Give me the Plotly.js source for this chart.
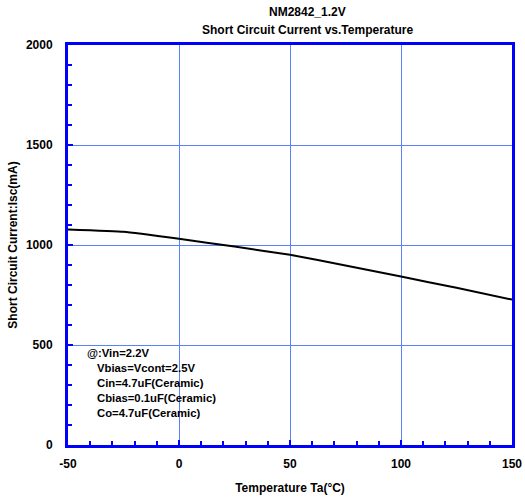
<!DOCTYPE html>
<html>
<head>
<meta charset="utf-8">
<script src="https://cdn.plot.ly/plotly-3.0.1.min.js"></script>
<style>html,body{margin:0;padding:0;background:#fff;}</style>
</head>
<body>
<div id="chart" style="width:525px;height:501px;"></div>
<script>
const temperature = [-50, -25, 0, 25, 50, 75, 100, 125, 150];
const iscCurrent = [1078, 1066, 1031, 992, 951, 898, 842, 786, 727];
const titleLines = ["NM2842_1.2V", "Short Circuit Current vs.Temperature"];
const xTitle = "Temperature Ta(°C)";
const yTitle = "Short Circuit Current:Isc(mA)";
const xTickVals = [-50, 0, 50, 100, 150];
const xTickText = ["-50", "0", "50", "100", "150"];
const yTickVals = [0, 500, 1000, 1500, 2000];
const yTickText = ["0", "500", "1000", "1500", "2000"];
const conditionLines = ["@:Vin=2.2V", "Vbias=Vcont=2.5V", "Cin=4.7uF(Ceramic)", "Cbias=0.1uF(Ceramic)", "Co=4.7uF(Ceramic)"];

const boldFont = {family: "Liberation Sans, Arial, sans-serif", size: 12, color: "#000", weight: "bold"};
const smallBold = {family: "Liberation Sans, Arial, sans-serif", size: 11.3, color: "#000", weight: "bold"};

const trace = {
  x: temperature, y: iscCurrent, type: "scatter", mode: "lines",
  line: {color: "#000", width: 2, shape: "spline", smoothing: 0.3},
  hoverinfo: "skip", showlegend: false
};

const anns = conditionLines.map((t, i) => ({
  text: t, xref: "paper", yref: "paper",
  x: i === 0 ? 0.038 : 0.061,
  y: 0.230 - i * 0.0378,
  xanchor: "left", yanchor: "middle", showarrow: false, font: smallBold
}));
titleLines.forEach((t, i) => anns.push({
  text: t, xref: "paper", yref: "paper",
  x: 0.54, y: i === 0 ? 1.0825 : 1.0375,
  xanchor: "center", yanchor: "middle", showarrow: false, font: boldFont
}));

const layout = {
  width: 525, height: 501,
  margin: {l: 68, r: 13, t: 45, b: 56},
  paper_bgcolor: "#fff", plot_bgcolor: "#fff",
  xaxis: {
    range: [-50, 150], tickmode: "array", tickvals: xTickVals, ticktext: xTickText, autorange: false,
    showline: true, linecolor: "#0000ff", linewidth: 3, mirror: true,
    ticks: "inside", ticklen: 5, tickwidth: 2, tickcolor: "#0000ff",
    minor: {dtick: 10, tick0: -50, ticks: "inside", ticklen: 4, tickwidth: 2, tickcolor: "#0000ff", showgrid: false},
    showgrid: true, gridcolor: "#5a82ff", gridwidth: 1,
    zeroline: false,
    tickfont: boldFont, ticklabelstandoff: 6,
    title: {text: xTitle, font: boldFont, standoff: 14}
  },
  yaxis: {
    range: [0, 2000], tickmode: "array", tickvals: yTickVals, ticktext: yTickText, autorange: false,
    showline: true, linecolor: "#0000ff", linewidth: 3, mirror: true,
    ticks: "inside", ticklen: 5, tickwidth: 2, tickcolor: "#0000ff",
    minor: {dtick: 100, tick0: 0, ticks: "inside", ticklen: 4, tickwidth: 2, tickcolor: "#0000ff", showgrid: false},
    showgrid: true, gridcolor: "#5a82ff", gridwidth: 1,
    zeroline: false,
    tickfont: boldFont, ticklabelstandoff: 10,
    title: {text: yTitle, font: boldFont, standoff: 6}
  },
  shapes: [{
    type: "rect", layer: "between", xref: "paper", yref: "paper",
    x0: 0, x1: 0.388, y0: 0, y1: 0.286,
    fillcolor: "#fff", line: {width: 0}
  }],
  annotations: anns
};

Plotly.newPlot("chart", [trace], layout, {staticPlot: true, displayModeBar: false});
</script>
</body>
</html>
